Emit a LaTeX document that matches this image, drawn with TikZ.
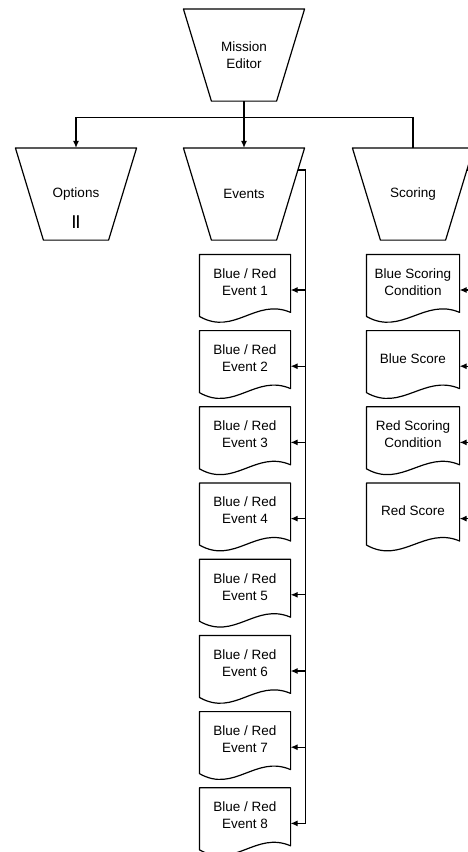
\documentclass[tikz,border=0pt]{standalone}
\usepackage{fontspec}
\setmainfont{Liberation Sans}
\usetikzlibrary{arrows.meta,positioning,calc}

\begin{document}
\begin{tikzpicture}[x=1pt, y=-1pt, line width=1.2pt,
  font=\fontsize{13.5pt}{17pt}\selectfont,
  trap/.style={rectangle, align=center, minimum width=120pt,
    minimum height=91pt, inner sep=1pt},
  docnode/.style={rectangle, align=center, minimum width=90pt,
    minimum height=54pt, inner xsep=1pt},
  outline/.style={line join=round},
  arr/.style={-{Latex[length=7pt,width=6pt]}}]
  \useasboundingbox (0,0) rectangle (468,852);

  % top level
  \node[trap] (me) at (244,55) {Mission\\Editor};
  \node[trap] (opt) at (76,194) {Options};
  \node (optbar) at ($(opt.center)+(0,28)$) {\textbf{||}};
  \node[trap] (ev) at (244,194) {Events};
  \node[trap] (sc) at (413,194) {Scoring};
  \foreach \n in {me,opt,ev,sc}
    \draw[outline] (\n.north west) -- (\n.north east) -- ([xshift=-28pt]\n.south east)
      -- ([xshift=28pt]\n.south west) -- cycle;

  \coordinate (split) at ($(me.south)+(0,16)$);
  \draw[arr] (me.south) -- (ev.north);
  \draw[arr] (split) -| (opt.north);
  \draw (split) -| (sc.north);

  % event list
  \foreach \i in {1,...,8} {
    \node[docnode] (ev\i) at (245,{282+76.2*(\i-1)}) {Blue / Red\\Event \i};
    \draw[outline] (ev\i.north west) -- (ev\i.north east) -- ++(0,58)
      .. controls +(-35,-15) and +(35,20) .. ($(ev\i.north west)+(0,62)$) -- cycle;
  }
  \coordinate (evtap) at ($(ev.north east)!0.24!([xshift=-28pt]ev.south east)$);
  \coordinate (evbus) at ($(evtap)+(8,0)$);
  \draw (evtap) -- (evbus) -- (evbus |- ev8.east) -- ++(0,8);
  \foreach \i in {1,...,8}
    \draw[arr] ([yshift=-8pt]evbus |- ev\i.east) -- ([yshift=-8pt]ev\i.east);

  % scoring list
  \foreach \i/\txt in {1/Blue Scoring\\Condition, 2/Blue Score,
      3/Red Scoring\\Condition, 4/Red Score} {
    \node[docnode, minimum width=92pt] (sc\i) at (413,{282+76.2*(\i-1)}) {\txt};
    \draw[outline] (sc\i.north west) -- (sc\i.north east) -- ++(0,58)
      .. controls +(-35,-15) and +(35,20) .. ($(sc\i.north west)+(0,62)$) -- cycle;
  }
  \coordinate (sctap) at ($(sc.north east)!0.24!([xshift=-28pt]sc.south east)$);
  \coordinate (scbus) at ($(sctap)+(6,0)$);
  \draw (sctap) -- (scbus) -- (scbus |- sc4.east) -- ++(0,8);
  \foreach \i in {1,...,4}
    \draw[arr] ([yshift=-8pt]scbus |- sc\i.east) -- ([yshift=-8pt]sc\i.east);
\end{tikzpicture}
\end{document}
